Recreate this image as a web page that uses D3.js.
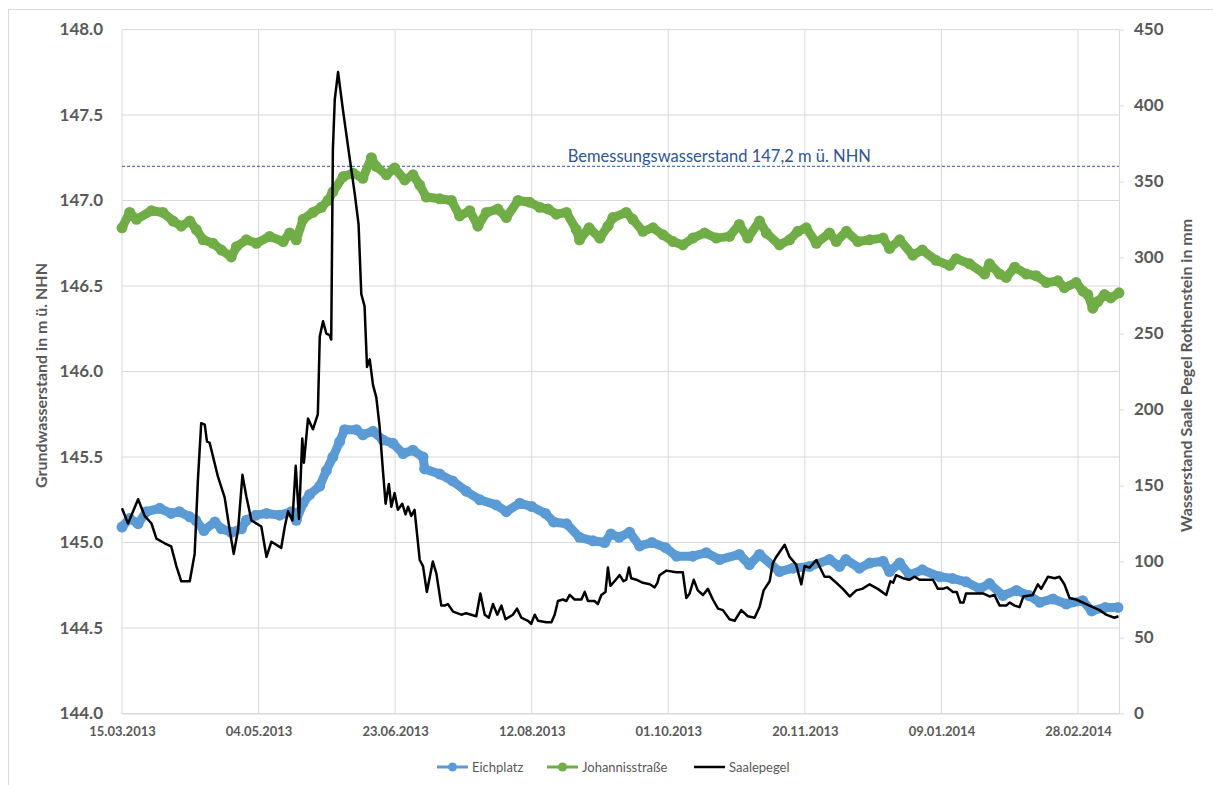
<!DOCTYPE html>
<html>
<head>
<meta charset="utf-8">
<script src="https://cdn.jsdelivr.net/npm/d3@7"></script>
<style>
  body { margin: 0; background: #fff; }
  text { font-family: Lato, "Open Sans", sans-serif; }
</style>
</head>
<body>
<div id="chart"></div>
<script>
// days since 15.03.2013 -> groundwater level (m ü. NHN)
var eichplatz = [[0,145.09],[2.8,145.14],[5.9,145.11],[8.9,145.18],[13.8,145.20],[18,145.17],[21,145.18],[24.8,145.15],[27,145.13],[30,145.07],[34,145.12],[36.4,145.08],[40,145.06],[43.7,145.08],[45.5,145.13],[49,145.16],[52.9,145.17],[57.7,145.16],[62,145.18],[63.8,145.13],[66.3,145.23],[68.7,145.28],[72.4,145.33],[74.8,145.42],[77.2,145.50],[79.7,145.59],[81.5,145.66],[85.8,145.66],[88.2,145.63],[91.9,145.65],[95.5,145.60],[99.2,145.58],[102.9,145.52],[106.5,145.54],[110.2,145.50],[110.8,145.43],[116.3,145.40],[121,145.36],[126,145.30],[131,145.25],[137,145.22],[140.7,145.18],[145.6,145.23],[150,145.21],[155,145.17],[158,145.12],[162.7,145.11],[167.5,145.03],[172.4,145.01],[176.7,145.00],[179,145.05],[182,145.03],[185.8,145.06],[189.5,144.98],[194,145.00],[199,144.97],[203,144.92],[209,144.92],[213.9,144.94],[218.8,144.90],[226,144.93],[229.7,144.87],[233.4,144.93],[240.7,144.83],[245.6,144.85],[251.7,144.86],[259,144.90],[262.7,144.86],[265,144.90],[270,144.85],[273.7,144.88],[278.6,144.89],[281,144.83],[284.7,144.88],[288.3,144.81],[293,144.84],[299.3,144.80],[304,144.79],[309,144.77],[314,144.73],[317.6,144.76],[322.5,144.69],[327.4,144.72],[332,144.69],[336,144.65],[340.8,144.67],[345.7,144.64],[351.7,144.66],[355,144.60],[360,144.62],[364.6,144.62]];

var johannisstrasse = [[0,146.84],[2.8,146.93],[5.3,146.89],[10.8,146.94],[15,146.93],[18.7,146.88],[21.7,146.85],[24.8,146.88],[27.2,146.83],[29.7,146.77],[33.3,146.75],[36.4,146.71],[40,146.67],[41.9,146.73],[45.5,146.77],[49.2,146.75],[54,146.79],[59,146.76],[61.4,146.81],[63.8,146.77],[66.3,146.89],[69.9,146.93],[73,146.96],[75.4,147.00],[77.2,147.05],[81,147.14],[84.6,147.16],[88.2,147.13],[91.3,147.25],[93,147.20],[96.8,147.15],[99.8,147.19],[103.5,147.12],[106.5,147.15],[109,147.09],[111.4,147.02],[116.3,147.01],[120.6,147.00],[123.6,146.91],[127.3,146.94],[130.3,146.85],[133.4,146.93],[137.6,146.95],[140.7,146.90],[145,147.00],[149.2,146.99],[152.9,146.96],[156,146.95],[159,146.92],[162.7,146.93],[166.3,146.83],[167.5,146.77],[171,146.84],[174.9,146.78],[177.9,146.85],[179.7,146.90],[184.6,146.93],[187,146.89],[190.7,146.82],[194.4,146.84],[198,146.80],[201.7,146.76],[205.3,146.74],[209,146.78],[213.3,146.81],[217.6,146.78],[222.4,146.79],[226,146.86],[229.1,146.78],[233.4,146.88],[235.9,146.81],[240.7,146.74],[244.4,146.77],[247.4,146.82],[250.5,146.84],[254.2,146.75],[259,146.81],[261.5,146.76],[265.2,146.82],[269.4,146.76],[273.7,146.77],[278.6,146.78],[281,146.72],[284.7,146.77],[289.5,146.68],[293,146.71],[298,146.65],[303,146.62],[305.4,146.66],[310.3,146.63],[315.8,146.57],[317.6,146.63],[321.3,146.57],[323.7,146.55],[326.8,146.61],[331,146.57],[334.7,146.56],[338.4,146.52],[342.6,146.53],[345,146.49],[349.3,146.52],[351.8,146.47],[353.6,146.45],[355.4,146.37],[357.3,146.41],[359.7,146.45],[362,146.43],[365,146.46]];

// days since 15.03.2013 -> Saale level (mm)
var saalepegel = [[0,135],[2.2,125],[5.9,141],[8.3,130],[10.8,125],[12.6,115],[15.6,112],[18,110],[19.9,97],[21.7,87],[24.8,87],[26.6,105],[27.8,154],[29,191],[30.3,190],[31.1,179],[32.1,178],[35.1,156],[37.6,142],[39.4,121],[40.9,105],[42.5,121],[44.1,157],[45.5,143],[47.4,127],[51,123],[52.9,103],[54.7,113],[58.3,109],[59.6,123],[60.8,133],[62.4,127],[63.6,163],[64.8,128],[66,181],[66.6,165],[68.1,194],[69.9,187],[71.7,197],[72.4,248],[73.6,258],[74.8,250],[76,249],[76.6,246],[77.2,371],[77.9,404],[79.1,422],[80.9,397],[83.3,366],[85.2,342],[86.6,322],[87.6,276],[88.8,268],[89.7,228],[90.7,233],[91.9,216],[93.1,208],[94.3,189],[95.3,165],[96.5,138],[97.7,151],[98.6,136],[99.8,145],[101,134],[102.6,138],[103.8,131],[104.7,136],[105.9,130],[107.1,134],[109,101],[110.2,97],[111.6,80],[113.8,100],[115.1,92],[116.9,71],[118.1,71],[119.3,72],[121.2,67],[124.2,65],[126,66],[129.7,64],[131.2,79],[132.8,65],[134.3,63],[135.8,72],[137.4,65],[138.9,71],[140.4,62],[143.1,65],[144.6,69],[146.2,63],[148.6,61],[149.8,59],[151.1,65],[152.3,61],[155.3,60],[157.2,60],[158.4,65],[159.6,74],[161.4,75],[162.7,74],[163.9,78],[165.7,75],[168.2,75],[169.4,80],[170.6,74],[173,74],[174.2,72],[175.5,78],[177,80],[177.9,96],[178.8,84],[180.3,87],[182.2,91],[183.6,87],[184.6,88],[185.6,96],[186.4,89],[188.3,88],[190.7,86],[193.2,85],[195,83],[196,86],[196.8,91],[199.3,94],[202.9,93],[205.3,93],[206.6,76],[207.8,79],[209.3,88],[210.8,81],[212.7,78],[214.5,82],[216.3,75],[218.2,69],[220,68],[222.4,62],[224.3,61],[226.7,68],[229.1,64],[231.6,63],[233.4,70],[234.9,81],[237.1,87],[238.3,99],[239.5,103],[242.6,111],[244.4,103],[246.8,98],[247.8,91],[248.7,85],[249.9,97],[251.7,96],[254.2,101],[257.2,90],[259,90],[261.5,86],[263.9,82],[266.4,77],[268.8,81],[271,82],[273.7,85],[276.7,82],[279.8,78],[281.3,87],[282.3,86],[283.4,91],[285.9,89],[288.3,88],[290.1,90],[292,88],[296.9,88],[298.7,82],[300.5,82],[302,83],[304.2,80],[305.6,80],[306.9,73],[308.1,73],[309,79],[312.7,79],[315.2,79],[317.6,77],[319.4,78],[321.3,71],[323.7,71],[325,73],[326.8,71],[328.6,70],[330,77],[333.4,78],[335.3,85],[336.5,82],[339,90],[341.5,89],[343.2,90],[345,85],[346.9,76],[349.3,75],[354.2,71],[357.9,68],[360.3,65],[363.3,63],[364.8,64]];

var startDate = new Date(Date.UTC(2013, 2, 15));
var xTicks = [0, 50, 100, 150, 200, 250, 300, 350];
var leftTicks = [144.0, 144.5, 145.0, 145.5, 146.0, 146.5, 147.0, 147.5, 148.0];
var rightTicks = [0, 50, 100, 150, 200, 250, 300, 350, 400, 450];
var designLevel = 147.2;
var designLabel = "Bemessungswasserstand 147,2 m ü. NHN";

// set the dimensions and margins of the graph
var margin = {top: 29.5, right: 94, bottom: 71.5, left: 122},
    width = 1213 - margin.left - margin.right,
    height = 785 - margin.top - margin.bottom;

var root = d3.select("#chart")
  .append("svg")
    .attr("width", 1213)
    .attr("height", 785);

// chart frame
root.append("rect")
  .attr("x", 8.5).attr("y", 9.5)
  .attr("width", 1220).attr("height", 800)
  .attr("fill", "none")
  .attr("stroke", "#d9d9d9");

var svg = root.append("g")
  .attr("transform", "translate(" + margin.left + "," + margin.top + ")");

var x = d3.scaleLinear().domain([0, 365]).range([0, width]);
var y = d3.scaleLinear().domain([144, 148]).range([height, 0]);
var y2 = d3.scaleLinear().domain([0, 450]).range([height, 0]);

var fmt = d3.utcFormat("%d.%m.%Y");
var grey = "#595959";

// grid
svg.append("g")
  .selectAll("line")
  .data(leftTicks)
  .enter().append("line")
    .attr("x1", 0).attr("x2", width)
    .attr("y1", function(d) { return y(d); })
    .attr("y2", function(d) { return y(d); })
    .attr("stroke", "#d9d9d9");
svg.append("g")
  .selectAll("line")
  .data(xTicks)
  .enter().append("line")
    .attr("x1", function(d) { return x(d); })
    .attr("x2", function(d) { return x(d); })
    .attr("y1", 0).attr("y2", height)
    .attr("stroke", "#d9d9d9");

// X axis
var xAxis = svg.append("g")
  .attr("transform", "translate(0," + height + ")")
  .call(d3.axisBottom(x).tickValues(xTicks).tickSize(0).tickPadding(13)
    .tickFormat(function(d) { return fmt(d3.utcDay.offset(startDate, d)); }));
xAxis.select(".domain").attr("stroke", "#d9d9d9");
xAxis.selectAll("text")
  .attr("fill", grey)
  .style("font-size", "13px")
  .style("font-weight", "bold")
  .style("font-family", "Lato");

// left Y axis
var yAxis = svg.append("g")
  .call(d3.axisLeft(y).tickValues(leftTicks).tickSize(0).tickPadding(19).tickFormat(d3.format(".1f")));
yAxis.select(".domain").remove();
yAxis.selectAll("text")
  .attr("fill", grey)
  .style("font-size", "17px")
  .style("font-weight", "bold")
  .style("font-family", "Lato");

// right Y axis
var y2Axis = svg.append("g")
  .attr("transform", "translate(" + width + ",0)")
  .call(d3.axisRight(y2).tickValues(rightTicks).tickSize(5).tickPadding(10));
y2Axis.select(".domain").attr("stroke", "#d9d9d9").attr("d", "M0.5,0V" + height);
y2Axis.selectAll("line").attr("stroke", "#d9d9d9");
y2Axis.selectAll("text")
  .attr("fill", grey)
  .style("font-size", "17px")
  .style("font-weight", "bold")
  .style("font-family", "Lato");

// axis titles
root.append("text")
  .attr("transform", "translate(47," + (margin.top + height / 2 + 4) + ") rotate(-90)")
  .attr("text-anchor", "middle")
  .attr("fill", grey)
  .style("font-size", "16px")
  .style("font-weight", "bold")
  .text("Grundwasserstand in m ü. NHN");
root.append("text")
  .attr("transform", "translate(1192," + (margin.top + height / 2 + 4) + ") rotate(-90)")
  .attr("text-anchor", "middle")
  .attr("fill", grey)
  .style("font-size", "16px")
  .style("font-weight", "bold")
  .text("Wasserstand Saale Pegel Rothenstein in mm");

// design water level
svg.append("line")
  .attr("x1", 0).attr("x2", width)
  .attr("y1", y(designLevel)).attr("y2", y(designLevel))
  .attr("stroke", "#2f5597")
  .attr("stroke-width", 1)
  .attr("stroke-dasharray", "3,2");
svg.append("text")
  .attr("x", x(163.2))
  .attr("y", y(designLevel) - 4)
  .attr("fill", "#2f5597")
  .style("font-size", "16.5px")
  .text(designLabel);

// marker series
function markerSeries(data, color) {
  var line = d3.line()
    .x(function(d) { return x(d[0]); })
    .y(function(d) { return y(d[1]); });
  svg.append("path")
    .datum(data)
    .attr("d", line)
    .attr("fill", "none")
    .attr("stroke", color)
    .attr("stroke-width", 9)
    .attr("stroke-linejoin", "round")
    .attr("stroke-linecap", "round");
  svg.append("g")
    .selectAll("circle")
    .data(data)
    .enter().append("circle")
      .attr("cx", function(d) { return x(d[0]); })
      .attr("cy", function(d) { return y(d[1]); })
      .attr("r", 5.5)
      .attr("fill", color);
}
markerSeries(eichplatz, "#5b9bd5");
markerSeries(johannisstrasse, "#70ad47");

// Saale
svg.append("path")
  .datum(saalepegel)
  .attr("d", d3.line()
    .x(function(d) { return x(d[0]); })
    .y(function(d) { return y2(d[1]); }))
  .attr("fill", "none")
  .attr("stroke", "#000")
  .attr("stroke-width", 2.5)
  .attr("stroke-linejoin", "round");

// legend
var legend = [
  {name: "Eichplatz", color: "#5b9bd5", marker: true, x: 437},
  {name: "Johannisstraße", color: "#70ad47", marker: true, x: 547},
  {name: "Saalepegel", color: "#000", marker: false, x: 694}
];
var lg = root.append("g").attr("transform", "translate(0,767)");
legend.forEach(function(d) {
  lg.append("line")
    .attr("x1", d.x).attr("x2", d.x + 31)
    .attr("stroke", d.color)
    .attr("stroke-width", d.marker ? 3 : 2.5);
  if (d.marker) {
    lg.append("circle").attr("cx", d.x + 15.5).attr("r", 4.5).attr("fill", d.color);
  }
  lg.append("text")
    .attr("x", d.x + 35)
    .attr("dy", "0.35em")
    .attr("fill", grey)
    .style("font-size", "13px")
    .text(d.name);
});
</script>
</body>
</html>
